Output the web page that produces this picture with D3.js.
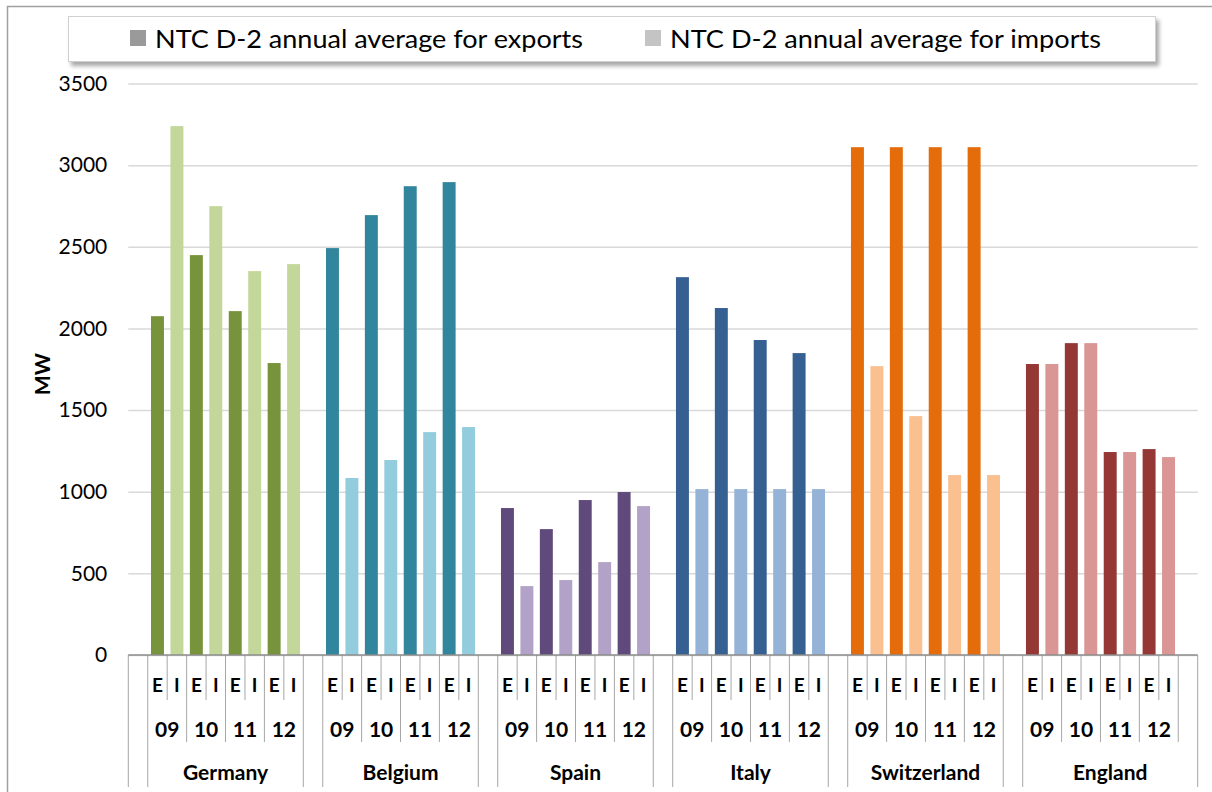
<!DOCTYPE html>
<html>
<head>
<meta charset="utf-8">
<script src="https://cdn.jsdelivr.net/npm/d3@7"></script>
<style>
	body { margin: 0; background: #fff; }
	text { font-family: Lato, 'Open Sans', sans-serif; fill: #000; }
</style>
</head>
<body>
<svg id="chart" width="1212" height="792"></svg>
<script>
'use strict';

var countries = ['Germany', 'Belgium', 'Spain', 'Italy', 'Switzerland', 'England'];
var years = ['09', '10', '11', '12'];
var flows = ['E', 'I'];

// NTC D-2 annual averages in MW, one row per country, one column per year
var exportsMW = [
	[2075, 2449, 2106, 1788],
	[2492, 2694, 2871, 2896],
	[900, 771, 949, 998],
	[2314, 2125, 1929, 1849],
	[3110, 3110, 3110, 3110],
	[1782, 1910, 1243, 1261]
];
var importsMW = [
	[3239, 2749, 2351, 2394],
	[1084, 1194, 1365, 1396],
	[422, 459, 569, 912],
	[1016, 1016, 1016, 1016],
	[1769, 1463, 1102, 1102],
	[1782, 1910, 1243, 1212]
];
var yTicks = [0, 500, 1000, 1500, 2000, 2500, 3000, 3500];
var legendLabels = ['NTC D-2 annual average for exports', 'NTC D-2 annual average for imports'];

var exportColors = ['#77933c', '#31859c', '#604a7b', '#376092', '#e46c0a', '#953735'];
var importColors = ['#c4d79b', '#93cddd', '#b3a2c7', '#95b3d7', '#fac090', '#d99694'];
var legendColors = ['#9a9a9a', '#c4c4c4'];

var margin = { left: 128.3, right: 1197.7, top: 83.5, bottom: 655 };
var rowE = 692, rowYear = 737, rowCountry = 780;
var lineE = 700, lineYear = 742, lineCountry = 787;

var svg = d3.select('#chart');

// outer chart frame
svg.append('rect')
	.attr('x', 7.5)
	.attr('y', 6.5)
	.attr('width', 1220)
	.attr('height', 800)
	.attr('fill', '#fff')
	.attr('stroke', '#a0a0a0')
	.attr('stroke-width', 1.5)
	;

// one blank slot before the first country and after each one
var cats = ['gap'];
countries.forEach(function(c) {
	years.forEach(function(y) {
		flows.forEach(function(f) { cats.push(c + '|' + y + '|' + f); });
	});
	cats.push(c + '|gap');
});

var x = d3.scaleBand()
	.domain(cats)
	.range([margin.left, margin.right])
	;
var y = d3.scaleLinear()
	.domain([0, 3500])
	.range([margin.bottom, margin.top])
	;

var grid = d3.axisLeft()
	.scale(y)
	.tickValues(yTicks)
	.tickSize(-(margin.right - margin.left))
	.tickPadding(21)
	.tickFormat(d3.format('d'))
	;
svg.append('g')
	.attr('class', 'y axis')
	.attr('transform', 'translate(' + margin.left + ',0)')
	.call(grid)
	.call(function(g) {
		g.select('.domain').remove();
		g.selectAll('.tick line')
			.attr('stroke', '#d9d9d9')
			.attr('stroke-width', 1.5);
		g.selectAll('.tick text')
			.attr('font-size', 21)
			.attr('font-family', 'Lato, sans-serif')
			.attr('fill', '#000');
	})
	;

svg.append('text')
	.attr('transform', 'translate(50,' + ((margin.top + margin.bottom) / 2 + 5) + ') rotate(-90)')
	.attr('text-anchor', 'middle')
	.attr('font-size', 21)
	.attr('font-weight', 'bold')
	.text('MW')
	;

// bars
var bars = [];
countries.forEach(function(c, ci) {
	years.forEach(function(yr, yi) {
		bars.push({ key: c + '|' + yr + '|E', value: exportsMW[ci][yi], color: exportColors[ci] });
		bars.push({ key: c + '|' + yr + '|I', value: importsMW[ci][yi], color: importColors[ci] });
	});
});
var bw = x.bandwidth() / 1.5;
svg.append('g')
	.attr('class', 'bars')
	.selectAll('rect')
	.data(bars)
	.enter()
	.append('rect')
		.attr('x', function(d) { return x(d.key) + (x.bandwidth() - bw) / 2; })
		.attr('width', bw)
		.attr('y', function(d) { return y(d.value); })
		.attr('height', function(d) { return y(0) - y(d.value); })
		.attr('fill', function(d) { return d.color; })
	;

// category axis with three label rows
var axis = svg.append('g').attr('class', 'x axis');
var dividers = [];
dividers.push({ x: margin.left, y2: lineCountry });
dividers.push({ x: margin.right, y2: lineCountry });
countries.forEach(function(c, ci) {
	dividers.push({ x: x(c + '|09|E'), y2: lineCountry });
	dividers.push({ x: x(c + '|gap'), y2: ci < countries.length - 1 ? lineCountry : lineYear });
	years.forEach(function(yr, yi) {
		if (yi > 0) dividers.push({ x: x(c + '|' + yr + '|E'), y2: lineYear });
		dividers.push({ x: x(c + '|' + yr + '|I'), y2: lineE });
	});
});
axis.selectAll('line.div')
	.data(dividers)
	.enter()
	.append('line')
		.attr('class', 'div')
		.attr('x1', function(d) { return d.x; })
		.attr('x2', function(d) { return d.x; })
		.attr('y1', margin.bottom)
		.attr('y2', function(d) { return d.y2; })
		.attr('stroke', '#a6a6a6')
		.attr('stroke-width', 1)
	;
axis.append('line')
	.attr('x1', margin.left)
	.attr('x2', margin.right)
	.attr('y1', margin.bottom)
	.attr('y2', margin.bottom)
	.attr('stroke', '#8c8c8c')
	.attr('stroke-width', 1.5)
	;

axis.selectAll('text.flow')
	.data(bars)
	.enter()
	.append('text')
		.attr('class', 'flow')
		.attr('x', function(d) { return x(d.key) + x.bandwidth() / 2; })
		.attr('y', rowE)
		.attr('text-anchor', 'middle')
		.attr('font-size', 19)
		.attr('font-weight', 'bold')
		.text(function(d) { return d.key.split('|')[2]; })
	;

var yearCells = [];
countries.forEach(function(c) {
	years.forEach(function(yr) { yearCells.push({ key: c + '|' + yr + '|E', label: yr }); });
});
axis.selectAll('text.year')
	.data(yearCells)
	.enter()
	.append('text')
		.attr('class', 'year')
		.attr('x', function(d) { return x(d.key) + x.bandwidth(); })
		.attr('y', rowYear)
		.attr('text-anchor', 'middle')
		.attr('font-size', 21)
		.attr('font-weight', 'bold')
		.text(function(d) { return d.label; })
	;

axis.selectAll('text.country')
	.data(countries)
	.enter()
	.append('text')
		.attr('class', 'country')
		.attr('x', function(c, ci) {
			var x0 = x(c + '|09|E');
			var x1 = ci < countries.length - 1 ? x(c + '|gap') : margin.right;
			return (x0 + x1) / 2;
		})
		.attr('y', rowCountry)
		.attr('text-anchor', 'middle')
		.attr('font-size', 21)
		.attr('font-weight', 'bold')
		.text(function(c) { return c; })
	;

// legend
var defs = svg.append('defs');
var shadow = defs.append('filter')
	.attr('id', 'shadow')
	.attr('x', '-5%').attr('y', '-30%')
	.attr('width', '110%').attr('height', '170%')
	;
shadow.append('feDropShadow')
	.attr('dx', 3)
	.attr('dy', 4)
	.attr('stdDeviation', 2)
	.attr('flood-color', '#000')
	.attr('flood-opacity', 0.35)
	;
var legend = svg.append('g').attr('class', 'legend');
legend.append('rect')
	.attr('x', 68.5)
	.attr('y', 16.5)
	.attr('width', 1087)
	.attr('height', 45)
	.attr('fill', '#fff')
	.attr('stroke', '#d0d0d0')
	.attr('filter', 'url(#shadow)')
	;
var legendX = [130, 645];
var items = legend.selectAll('g.item')
	.data(legendLabels)
	.enter()
	.append('g')
		.attr('class', 'item')
		.attr('transform', function(d, i) { return 'translate(' + legendX[i] + ',0)'; })
	;
items.append('rect')
	.attr('x', 0)
	.attr('y', 30)
	.attr('width', 16)
	.attr('height', 16)
	.attr('fill', function(d, i) { return legendColors[i]; })
	;
items.append('text')
	.attr('x', 25)
	.attr('y', 48)
	.attr('font-size', 25)
	.attr('textLength', function(d, i) { return i === 0 ? 428 : 431; })
	.attr('lengthAdjust', 'spacingAndGlyphs')
	.text(function(d) { return d; })
	;
</script>
</body>
</html>
